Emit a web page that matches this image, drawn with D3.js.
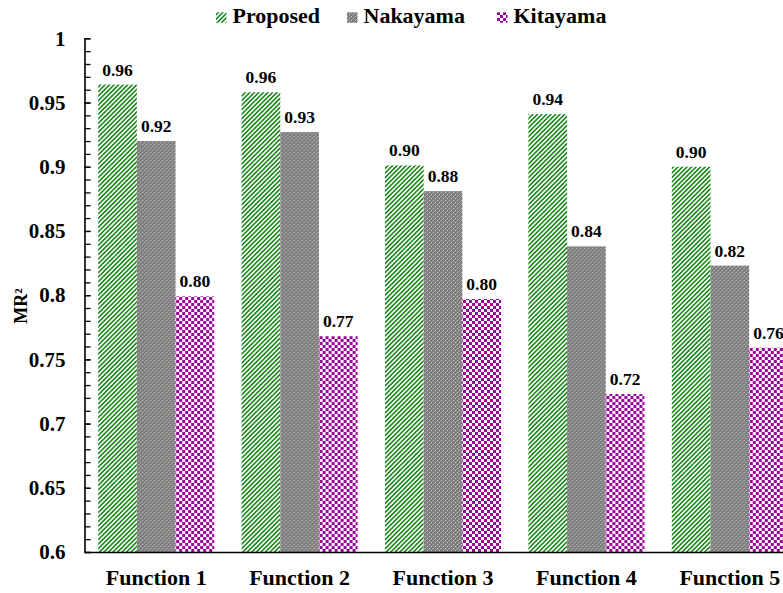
<!DOCTYPE html>
<html>
<head>
<meta charset="utf-8">
<script src="https://cdn.jsdelivr.net/npm/d3@7"></script>
<style>
  html, body { margin: 0; padding: 0; background: #fff; }
  svg { display: block; }
  svg text { font-family: "Times New Roman", "Liberation Serif", Times, "DejaVu Serif", serif !important; font-weight: bold; fill: #000; }
</style>
</head>
<body>
<svg id="chart" width="783" height="593"></svg>
<script>
// Chart data
const categories = ["Function 1", "Function 2", "Function 3", "Function 4", "Function 5"];
const seriesNames = ["Proposed", "Nakayama", "Kitayama"];
const proposed = [0.964, 0.958, 0.901, 0.941, 0.900];
const nakayama = [0.920, 0.927, 0.881, 0.838, 0.823];
const kitayama = [0.799, 0.768, 0.797, 0.723, 0.759];
const yMajorTicks = [0.6, 0.65, 0.7, 0.75, 0.8, 0.85, 0.9, 0.95, 1];
const yAxisTitle = "MR²";

const seriesValues = [proposed, nakayama, kitayama];
const patternIds = ["pat-proposed", "pat-nakayama", "pat-kitayama"];
const serifStack = '"Times New Roman", "Liberation Serif", Times, "DejaVu Serif", serif';

const svg = d3.select("#chart");
const plot = { left: 84.5, right: 801.5, top: 38.3, bottom: 552 };

// Fill patterns: green hatching, gray stipple, purple checkerboard
const defs = svg.append("defs");
const pg = defs.append("pattern").attr("id", patternIds[0])
  .attr("patternUnits", "userSpaceOnUse").attr("width", 3.2).attr("height", 3.2)
  .attr("patternTransform", "rotate(45)");
pg.append("rect").attr("width", 3.2).attr("height", 3.2).attr("fill", "#fff");
pg.append("rect").attr("width", 1.6).attr("height", 3.2).attr("fill", "#1b8a1b");

const pn = defs.append("pattern").attr("id", patternIds[1])
  .attr("patternUnits", "userSpaceOnUse").attr("width", 4).attr("height", 4);
pn.append("rect").attr("width", 4).attr("height", 4).attr("fill", "#7c7c7c");
pn.append("rect").attr("x", 0).attr("y", 0).attr("width", 1).attr("height", 1).attr("fill", "#c8c8c8");
pn.append("rect").attr("x", 2).attr("y", 2).attr("width", 1).attr("height", 1).attr("fill", "#c8c8c8");
pn.append("rect").attr("x", 1).attr("y", 3).attr("width", 1).attr("height", 1).attr("fill", "#9a9a9a");
pn.append("rect").attr("x", 3).attr("y", 1).attr("width", 1).attr("height", 1).attr("fill", "#9a9a9a");

const pk = defs.append("pattern").attr("id", patternIds[2])
  .attr("patternUnits", "userSpaceOnUse").attr("width", 6).attr("height", 6);
pk.append("rect").attr("width", 6).attr("height", 6).attr("fill", "#fff");
pk.append("rect").attr("x", 0).attr("y", 0).attr("width", 3).attr("height", 3).attr("fill", "#9c009c");
pk.append("rect").attr("x", 3).attr("y", 3).attr("width", 3).attr("height", 3).attr("fill", "#9c009c");

// Scales
const x0 = d3.scaleBand().domain(categories).range([plot.left, plot.right])
  .paddingInner(0.191).paddingOuter(0.0955);
const x1 = d3.scaleBand().domain(seriesNames).range([0, x0.bandwidth()]).padding(0);
const y = d3.scaleLinear().domain([0.6, 1]).range([plot.bottom, plot.top]);

// Bars
const groups = svg.append("g").selectAll("g")
  .data(categories).join("g")
  .attr("transform", c => `translate(${x0(c)},0)`);

const cells = (c, i) => seriesNames.map((s, j) => ({ s, j, v: seriesValues[j][i] }));

groups.selectAll("rect")
  .data(cells)
  .join("rect")
  .attr("x", d => x1(d.s))
  .attr("y", d => y(d.v))
  .attr("width", x1.bandwidth())
  .attr("height", d => y(0.6) - y(d.v))
  .attr("fill", d => `url(#${patternIds[d.j]})`);

// Value labels
groups.selectAll("text.val")
  .data(cells)
  .join("text")
  .attr("class", "val")
  .attr("x", d => x1(d.s) + x1.bandwidth() / 2)
  .attr("y", d => y(d.v) - 9)
  .attr("text-anchor", "middle")
  .attr("font-size", 17.5)
  .text(d => d.v.toFixed(2));

// Y axis: minor ticks every 0.01, major labelled every 0.05
const minorTicks = d3.range(60, 101).map(v => v / 100);
svg.append("g")
  .attr("transform", `translate(${plot.left},0)`)
  .call(d3.axisLeft(y).tickValues(minorTicks).tickSize(-6).tickSizeOuter(0).tickFormat(""))
  .call(g => g.selectAll("line").attr("stroke", "#000").attr("stroke-width", 1.3))
  .call(g => g.select(".domain").attr("stroke", "#000").attr("stroke-width", 1.6));

svg.append("g")
  .attr("transform", `translate(${plot.left},0)`)
  .call(d3.axisLeft(y).tickValues(yMajorTicks).tickSize(-6).tickSizeOuter(0)
    .tickPadding(19).tickFormat(d => String(+d.toFixed(2))))
  .attr("font-family", serifStack)
  .call(g => g.select(".domain").remove())
  .call(g => g.selectAll("line").attr("stroke", "#000").attr("stroke-width", 1.3))
  .call(g => g.selectAll("text").attr("font-size", 21));

// X axis
svg.append("g")
  .attr("transform", `translate(0,${plot.bottom})`)
  .call(d3.axisBottom(x0).tickSize(0).tickSizeOuter(0).tickPadding(17.5))
  .attr("font-family", serifStack)
  .call(g => g.select(".domain").attr("stroke", "#000").attr("stroke-width", 1.6))
  .call(g => g.selectAll("text").attr("font-size", 22));

// Y axis title
svg.append("text")
  .attr("transform", "translate(27,306) rotate(-90)")
  .attr("text-anchor", "middle")
  .attr("font-size", 18)
  .text(yAxisTitle);

// Legend
const legendX = [216, 347, 497];
const legend = svg.append("g").selectAll("g")
  .data(seriesNames).join("g")
  .attr("transform", (d, i) => `translate(${legendX[i]},0)`);
legend.append("rect")
  .attr("x", 0).attr("y", 12.3).attr("width", 10.5).attr("height", 10.5)
  .attr("fill", (d, i) => `url(#${patternIds[i]})`);
legend.append("text")
  .attr("x", 16.5).attr("y", 22.7)
  .attr("font-size", 22)
  .text(d => d);
</script>
</body>
</html>
